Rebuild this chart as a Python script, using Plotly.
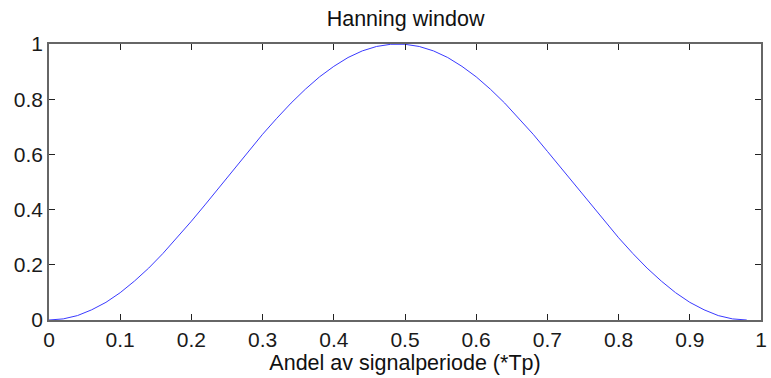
import plotly.graph_objects as go

# Sample positions (fraction of signal period) and Hanning window values
x_vals = [0.00, 0.02, 0.04, 0.06, 0.08, 0.10, 0.12, 0.14, 0.16, 0.18,
          0.20, 0.22, 0.24, 0.26, 0.28, 0.30, 0.32, 0.34, 0.36, 0.38,
          0.40, 0.42, 0.44, 0.46, 0.48, 0.50, 0.52, 0.54, 0.56, 0.58,
          0.60, 0.62, 0.64, 0.66, 0.68, 0.70, 0.72, 0.74, 0.76, 0.78,
          0.80, 0.82, 0.84, 0.86, 0.88, 0.90, 0.92, 0.94, 0.96, 0.98]
w_vals = [0.000, 0.004, 0.016, 0.037, 0.064, 0.099, 0.141, 0.188, 0.241, 0.298,
          0.358, 0.420, 0.484, 0.548, 0.611, 0.673, 0.731, 0.786, 0.836, 0.881,
          0.919, 0.951, 0.975, 0.991, 0.999, 0.999, 0.991, 0.975, 0.951, 0.919,
          0.881, 0.836, 0.786, 0.731, 0.673, 0.611, 0.548, 0.484, 0.420, 0.358,
          0.298, 0.241, 0.188, 0.141, 0.099, 0.064, 0.037, 0.016, 0.004, 0.000]

x_ticks = [0, 0.1, 0.2, 0.3, 0.4, 0.5, 0.6, 0.7, 0.8, 0.9, 1]
x_tick_text = ["0", "0.1", "0.2", "0.3", "0.4", "0.5", "0.6", "0.7", "0.8", "0.9", "1"]
y_ticks = [0, 0.2, 0.4, 0.6, 0.8, 1]
y_tick_text = ["0", "0.2", "0.4", "0.6", "0.8", "1"]

FONT = "Liberation Sans, Arial, sans-serif"

fig = go.Figure()
fig.add_trace(go.Scatter(x=x_vals, y=w_vals, mode="lines",
                         line=dict(color="#3a3aff", width=1), showlegend=False))

axis_common = dict(showline=True, linecolor="#666666", linewidth=1.5, mirror="ticks",
                   ticks="inside", ticklen=6, tickcolor="#222222", tickwidth=1,
                   showgrid=False, zeroline=False,
                   tickfont=dict(family=FONT, size=21, color="#1a1a1a"))

fig.update_layout(
    width=771, height=378,
    margin=dict(l=49, r=4, t=44, b=58),
    paper_bgcolor="white", plot_bgcolor="white",
    title=dict(text="Hanning window", x=0.526, xanchor="center", y=0.952, yanchor="middle",
               font=dict(family=FONT, size=21.5, color="#111111")),
    xaxis=dict(range=[0, 1], tickvals=x_ticks, ticktext=x_tick_text,
               title=dict(text="Andel av signalperiode (*Tp)", standoff=2,
                          font=dict(family=FONT, size=21.5, color="#111111")),
               **axis_common),
    yaxis=dict(range=[0, 1], tickvals=y_ticks, ticktext=y_tick_text, **axis_common),
)

fig.write_html("out.html")
